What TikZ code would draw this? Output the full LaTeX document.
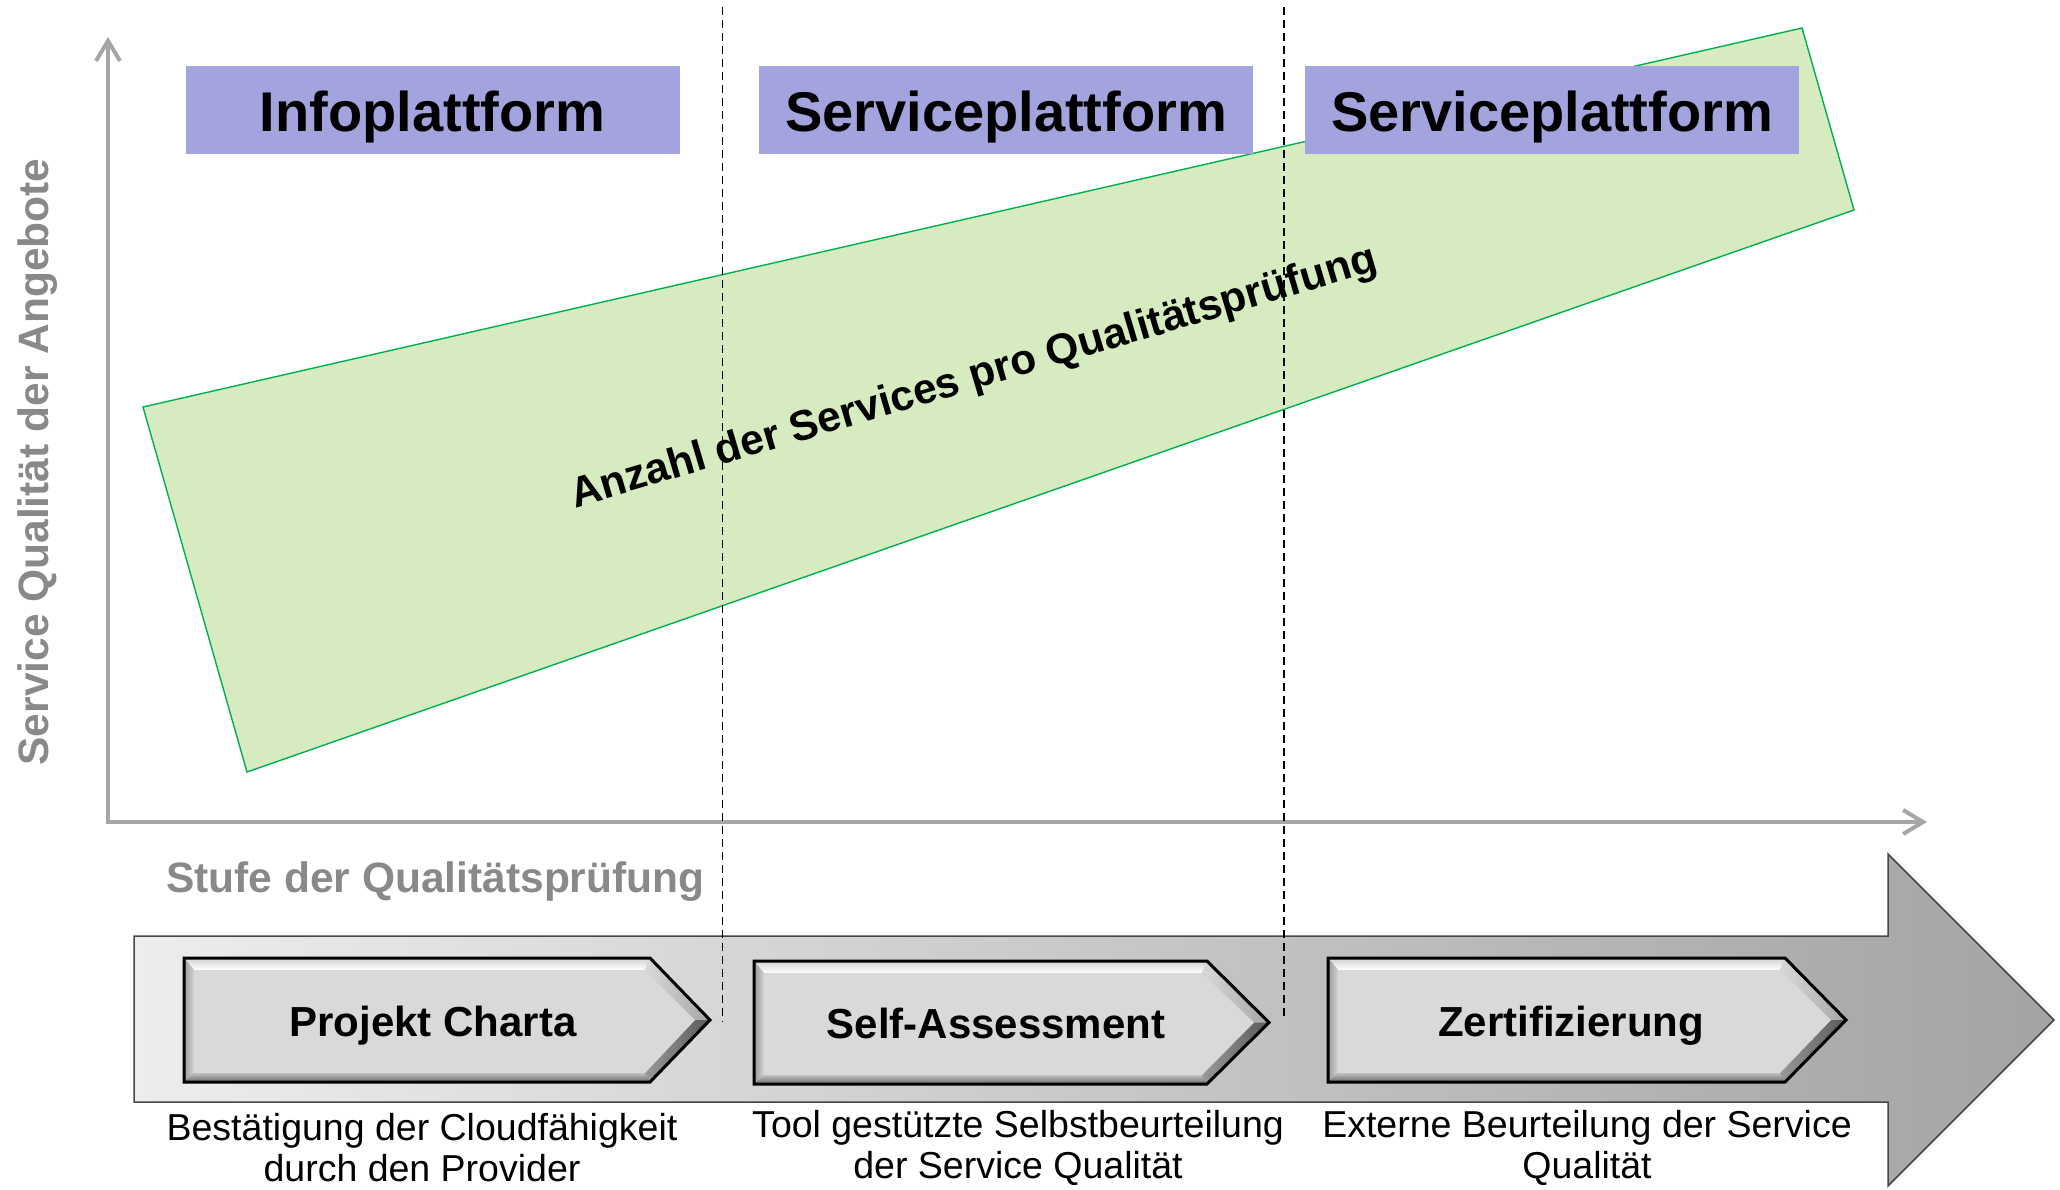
\documentclass[tikz,border=0pt]{standalone}
\usepackage{fontspec}
\setmainfont{Liberation Sans}
\usetikzlibrary{arrows.meta,calc}

\definecolor{hdrblue}{RGB}{163,163,222}
\definecolor{bandgreen}{RGB}{214,235,192}
\definecolor{edgegreen}{RGB}{0,176,80}
\definecolor{axisgray}{RGB}{166,166,166}
\definecolor{labelgray}{RGB}{137,137,137}
\definecolor{chevface}{RGB}{217,217,217}
\definecolor{chevbase}{RGB}{160,160,160}
\definecolor{arrowedge}{RGB}{70,70,70}

\newcommand\mychev[6]{%
  \pgfmathsetmacro\cmid{(#5+#6)/2}%
  \pgfmathsetmacro\ixa{#2+10}%
  \pgfmathsetmacro\iya{#5+12}%
  \pgfmathsetmacro\iyb{#6-9}%
  \pgfmathsetmacro\ixs{#3-5}%
  \pgfmathsetmacro\ixt{#4-15}%
  \fill[chevbase] (#2,#5) -- (#3,#5) -- (#4,\cmid) -- (#3,#6) -- (#2,#6) -- cycle;
  \shade[top color=black!18, bottom color=white] (#2,#5) -- (#3,#5) -- (\ixs,\iya) -- (\ixa,\iya) -- cycle;
  \shade[left color=black!40, right color=black!17] (#2,#5) -- (\ixa,\iya) -- (\ixa,\iyb) -- (#2,#6) -- cycle;
  \shade[top color=black!25, bottom color=black!58] (#2,#6) -- (\ixa,\iyb) -- (\ixs,\iyb) -- (#3,#6) -- cycle;
  \shade[left color=black!15, right color=black!35] (#3,#5) -- (#4,\cmid) -- (\ixt,\cmid) -- (\ixs,\iya) -- cycle;
  \shade[left color=black!40, right color=black!65] (#4,\cmid) -- (#3,#6) -- (\ixs,\iyb) -- (\ixt,\cmid) -- cycle;
  \fill[chevface] (\ixa,\iya) -- (\ixs,\iya) -- (\ixt,\cmid) -- (\ixs,\iyb) -- (\ixa,\iyb) -- cycle;
  \draw[line width=3pt, line join=miter] (#2,#5) -- (#3,#5) -- (#4,\cmid) -- (#3,#6) -- (#2,#6) -- cycle;
  \coordinate (#1) at (#2,\cmid);
}

\begin{document}
\begin{tikzpicture}[x=1pt,y=-1pt,
  hdrbox/.style={fill=hdrblue, inner sep=0pt, minimum width=494pt, minimum height=88pt},
  hdrtext/.style={font=\fontsize{56}{60}\selectfont\bfseries, anchor=base, inner sep=0pt},
  axisline/.style={draw=axisgray, line width=4pt, line join=miter},
  axislabel/.style={font=\fontsize{42.5}{46}\selectfont\bfseries, text=labelgray, inner sep=0pt},
  greentext/.style={font=\fontsize{42.5}{46}\selectfont\bfseries, inner sep=0pt, anchor=base},
  chevtext/.style={font=\fontsize{42}{46}\selectfont\bfseries, inner sep=0pt, anchor=base},
  captext/.style={font=\fontsize{37.5}{42}\selectfont, inner sep=0pt, anchor=base},
  dashline/.style={draw=black, line width=1.8pt, dash pattern=on 8pt off 5pt},
  barb/.tip={Straight Barb[length=20pt,width=24pt]}
]
\useasboundingbox (0,0) rectangle (2060,1189);

% axes
\coordinate (O) at (108,822);
\coordinate (ytop) at (108,37);
\coordinate (xend) at (1927,822);
\draw[axisline, barb-barb] (ytop) -- (O) -- (xend);

% green band
\coordinate (g1) at (143,407);
\coordinate (g2) at (1802,28);
\coordinate (g3) at (1854,210);
\coordinate (g4) at (247,772);
\draw[fill=bandgreen, draw=edgegreen, line width=1.4pt] (g1) -- (g2) -- (g3) -- (g4) -- cycle;
\node[greentext, rotate=16.5] (gtext) at (977,389) {Anzahl der Services pro Qualitätsprüfung};

% header boxes
\node[hdrbox] (h1) at (432.5,110) {};
\node[hdrbox] (h2) at (1006,110) {};
\node[hdrbox] (h3) at (1552,110) {};
\node[hdrtext] (h1t) at (432.5,131) {Infoplattform};
\node[hdrtext] (h2t) at (1006,131) {Serviceplattform};
\node[hdrtext] (h3t) at (1552,131) {Serviceplattform};

% big arrow
\shade[draw=arrowedge, line width=1.5pt, line join=miter,
  left color=black!7, middle color=black!17, right color=black!36]
  (134,936) -- (1888,936) -- (1888,854) -- (2054,1020) -- (1888,1186) -- (1888,1102) -- (134,1102) -- cycle;

% chevrons
\mychev{c1}{184}{650}{710}{958}{1082}
\mychev{c2}{754}{1207}{1269}{961}{1084}
\mychev{c3}{1328}{1785}{1846}{958}{1082}
\node[chevtext] (c1t) at (433,1036) {Projekt Charta};
\node[chevtext] (c2t) at (996,1038) {Self-Assessment};
\node[chevtext] (c3t) at (1571,1036) {Zertifizierung};

% captions
\node[captext] (cap1a) at (422,1140) {Bestätigung der Cloudfähigkeit};
\node[captext] (cap1b) at (422,1181) {durch den Provider};
\node[captext] (cap2a) at (1018,1137) {Tool gestützte Selbstbeurteilung};
\node[captext] (cap2b) at (1018,1178) {der Service Qualität};
\node[captext] (cap3a) at (1587,1137) {Externe Beurteilung der Service};
\node[captext] (cap3b) at (1587,1178) {Qualität};

% dashed separators
\coordinate (d1t) at (722.5,7);
\coordinate (d1b) at (722.5,1022);
\coordinate (d2t) at (1284,7);
\coordinate (d2b) at (1284,1020);
\draw[dashline] (d1t) -- (d1b);
\draw[dashline] (d2t) -- (d2b);

% axis labels
\node[axislabel, rotate=90, anchor=base] (ylab) at (48,462) {Service Qualität der Angebote};
\node[axislabel, anchor=base west] (xlab) at (166,892) {Stufe der Qualitätsprüfung};
\end{tikzpicture}
\end{document}
